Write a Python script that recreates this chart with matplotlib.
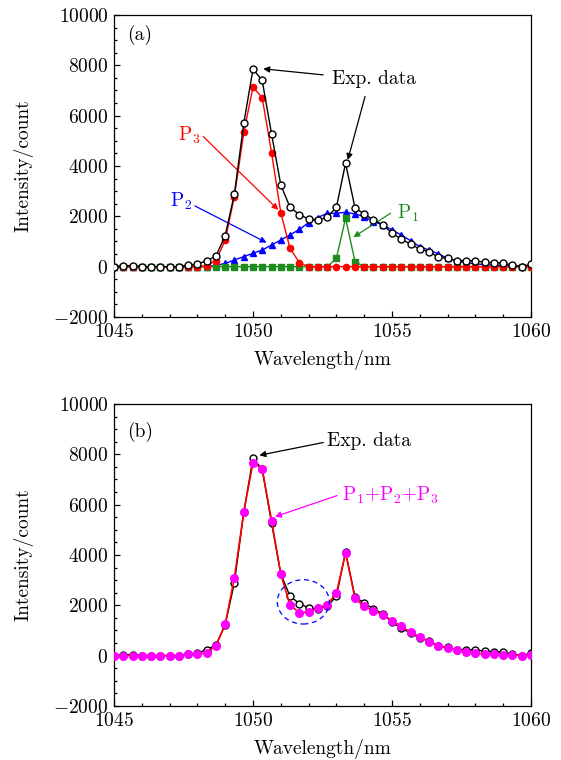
import matplotlib
matplotlib.use('Agg')
import matplotlib.pyplot as plt
from matplotlib.patches import Ellipse

plt.rcParams['font.family'] = 'serif'
plt.rcParams['font.serif'] = ['cmr10', 'DejaVu Serif']
plt.rcParams['mathtext.fontset'] = 'cm'
plt.rcParams['axes.formatter.use_mathtext'] = True
plt.rcParams['axes.unicode_minus'] = True

FS = 14

# Wavelength grid (nm)
wl = [1045.00, 1045.33, 1045.67, 1046.00, 1046.33, 1046.67, 1047.00, 1047.33,
      1047.67, 1048.00, 1048.33, 1048.67, 1049.00, 1049.33, 1049.67, 1050.00,
      1050.33, 1050.67, 1051.00, 1051.33, 1051.67, 1052.00, 1052.33, 1052.67,
      1053.00, 1053.33, 1053.67, 1054.00, 1054.33, 1054.67, 1055.00, 1055.33,
      1055.67, 1056.00, 1056.33, 1056.67, 1057.00, 1057.33, 1057.67, 1058.00,
      1058.33, 1058.67, 1059.00, 1059.33, 1059.67, 1060.00]

# Experimental data
exp_data = [0, 40, 40, 0, 0, 0, 0, 0, 60, 100, 240, 425, 1230, 2890, 5700, 7850,
            7400, 5260, 3250, 2360, 2070, 1890, 1850, 1960, 2360, 4110, 2330, 2095,
            1860, 1660, 1330, 1090, 900, 690, 600, 370, 330, 240, 240, 225, 175,
            160, 130, 70, 0, 95]

# Fitted components
p1 = [0, 0, 0, 0, 0, 0, 0, 0, 0, 0, 0, 0, 0, 0, 0, 0,
      0, 0, 0, 0, 0, 0, 0, 0, 330, 1925, 200, 0, 0, 0, 0, 0,
      0, 0, 0, 0, 0, 0, 0, 0, 0, 0, 0, 0, 0, 0]
p2 = [0, 0, 0, 0, 0, 0, 0, 0, 0, 0, 0, 50, 130, 265, 400, 530,
      660, 860, 1060, 1260, 1480, 1750, 1950, 2120, 2120, 2160, 2095, 1990, 1790, 1660, 1460, 1260,
      1030, 795, 660, 505, 330, 230, 150, 110, 80, 60, 40, 30, 10, 30]
p3 = [0, 0, 0, 0, 0, 0, 0, 0, 0, 0, 40, 240, 1060, 2780, 5340, 7130,
      6720, 4510, 2150, 730, 160, 0, 0, 0, 0, 0, 0, 0, 0, 0, 0, 0,
      0, 0, 0, 0, 0, 0, 0, 0, 0, 0, 0, 0, 0, 0]

# P1+P2+P3
p_sum = [0, 0, 0, 0, 0, 0, 0, 0, 50, 50, 120, 400, 1240, 3095, 5720, 7670,
         7430, 5350, 3240, 2015, 1695, 1735, 1895, 2030, 2470, 4095, 2270, 1960,
         1790, 1630, 1390, 1160, 935, 735, 560, 400, 295, 230, 135, 95, 70,
         55, 30, 30, 0, 30]

GREEN = '#1e8c1e'

fig = plt.figure(figsize=(5.61, 7.6), dpi=100)
ax1 = fig.add_axes([0.2032, 0.5829, 0.7433, 0.3974])
ax2 = fig.add_axes([0.2032, 0.0711, 0.7433, 0.3974])


def style_axis(ax):
    ax.set_xlim(1045, 1060)
    ax.set_ylim(-2000, 10000)
    ax.set_xticks([1045, 1050, 1055, 1060])
    ax.set_xticks(range(1045, 1061), minor=True)
    ax.set_yticks(range(-2000, 10001, 2000))
    ax.set_yticks(range(-2000, 10001, 500), minor=True)
    ax.tick_params(which='both', direction='in', top=False, right=False,
                   labelsize=FS, width=0.9)
    ax.tick_params(which='major', length=4.5, pad=4)
    ax.tick_params(which='minor', length=2.5)
    for s in ax.spines.values():
        s.set_linewidth(0.9)
    ax.set_xlabel('Wavelength/nm', fontsize=FS, labelpad=7)
    ax.set_ylabel('Intensity/count', fontsize=FS, labelpad=14)


def arrow(ax, start, tip, color):
    ax.annotate('', xy=tip, xytext=start,
                arrowprops=dict(arrowstyle='-|>', color=color, lw=0.9,
                                mutation_scale=9, shrinkA=0, shrinkB=0))


# (a) components
ax1.plot(wl, p2, '-', color='blue', lw=1.0, marker='^', ms=5, zorder=2)
ax1.plot(wl, p1, '-', color=GREEN, lw=1.0, marker='s', ms=4, zorder=3)
ax1.plot(wl, p3, '-', color='red', lw=1.0, marker='o', ms=4.5, zorder=4)
ax1.plot(wl, exp_data, '-', color='black', lw=1.0, marker='o', ms=5,
         mfc='white', mec='black', mew=1.0, zorder=5)
style_axis(ax1)
ax1.text(0.031, 0.934, '(a)', transform=ax1.transAxes, fontsize=FS, va='center')

ax1.text(1052.83, 7460, 'Exp. data', fontsize=FS, va='center')
arrow(ax1, (1052.52, 7620), (1050.37, 7860), 'black')
arrow(ax1, (1054.03, 6760), (1053.41, 4240), 'black')

ax1.text(1047.30, 5235, r'P$_3$', fontsize=FS, va='center', color='red')
arrow(ax1, (1048.21, 5170), (1050.91, 2255), 'red')

ax1.text(1047.01, 2585, r'P$_2$', fontsize=FS, va='center', color='blue')
arrow(ax1, (1047.91, 2413), (1050.49, 954), 'blue')

ax1.text(1055.17, 2135, r'P$_1$', fontsize=FS, va='center', color=GREEN)
arrow(ax1, (1054.95, 2123), (1053.61, 1170), GREEN)

# (b) sum of components
ax2.plot(wl, exp_data, '-', color='black', lw=1.0, marker='o', ms=5,
         mfc='white', mec='black', mew=1.0, zorder=2)
ax2.plot(wl, p_sum, '-', color='red', lw=1.2, zorder=3)
ax2.plot(wl, p_sum, 'o', color='magenta', ms=5.5, zorder=4)
style_axis(ax2)
ax2.text(0.031, 0.908, '(b)', transform=ax2.transAxes, fontsize=FS, va='center')

ax2.text(1052.66, 8508, 'Exp. data', fontsize=FS, va='center')
arrow(ax2, (1052.53, 8468), (1050.23, 7960), 'black')

ax2.text(1053.19, 6388, r'P$_1$+P$_2$+P$_3$', fontsize=FS, va='center', color='magenta')
arrow(ax2, (1053.03, 6360), (1050.79, 5520), 'magenta')

ax2.add_patch(Ellipse((1051.81, 2136), 1.87, 1760, fill=False, ec='blue',
                      ls=(0, (4, 3)), lw=0.9, zorder=6))

plt.savefig('out.png', dpi=100)
